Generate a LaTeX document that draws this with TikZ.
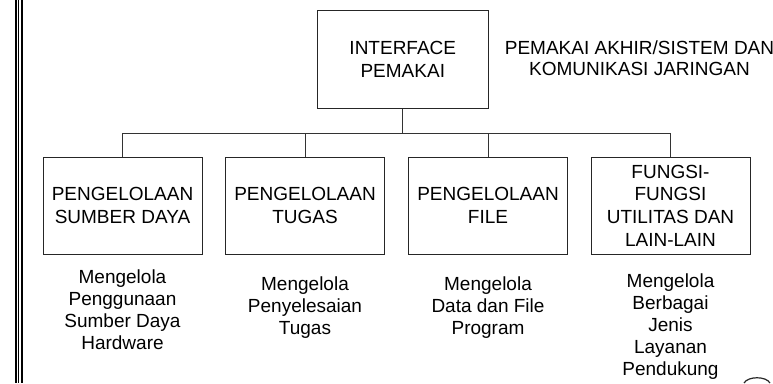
\documentclass[tikz,border=0pt]{standalone}
\usepackage{fontspec}
\setmainfont{Liberation Sans}
\begin{document}
\begin{tikzpicture}[x=1pt,y=-1pt,
  boxc/.style={draw=black!85,line width=1pt,minimum width=159pt,minimum height=97pt,align=center,inner sep=0pt,
     font=\fontsize{19}{22.7}\selectfont},
  desc/.style={anchor=north,align=center,inner sep=0pt,font=\fontsize{19}{22}\selectfont},
  conn/.style={draw=black!80,line width=1pt}]
\useasboundingbox (0,0) rectangle (773,383);
% left border
\fill[black] (15,0) rectangle (17.2,383);
\fill[black] (18.4,0) rectangle (19.4,383);
\fill[black] (20.8,0) rectangle (23.4,383);
% top box
\node[boxc,minimum width=171pt,minimum height=97.6pt] (top) at (402.8,59.5) {INTERFACE\\PEMAKAI};
\node[align=center,inner sep=0pt,font=\fontsize{19}{21}\selectfont] (note) at (639.5,58.5) {PEMAKAI AKHIR/SISTEM DAN\\KOMUNIKASI JARINGAN};
% child boxes
\node[boxc] (b1) at (122.5,205.5) {PENGELOLAAN\\SUMBER DAYA};
\node[boxc] (b2) at (305,205.5) {PENGELOLAAN\\TUGAS};
\node[boxc] (b3) at (488,205.5) {PENGELOLAAN\\FILE};
\node[boxc] (b4) at (670.5,205.5) {FUNGSI-\\FUNGSI\\UTILITAS DAN\\LAIN-LAIN};
% connectors
\coordinate (busY) at (0,133);
\draw[conn] (top.south) -- (top.south |- busY);
\draw[conn] (b1.north) -- (b1.north |- busY) -- (b4.north |- busY) -- (b4.north);
\draw[conn] (b2.north) -- (b2.north |- busY);
\draw[conn] (b3.north) -- (b3.north |- busY);
% descriptions
\node[desc] (d1) at (122.5,270) {Mengelola\\Penggunaan\\Sumber Daya\\Hardware};
\node[desc] (d2) at (305,277) {Mengelola\\Penyelesaian\\Tugas};
\node[desc] (d3) at (488,277) {Mengelola\\Data dan File\\Program};
\node[desc] (d4) at (670.5,274) {Mengelola\\Berbagai\\Jenis\\Layanan\\Pendukung};
% partial circle at bottom right
\draw[line width=1.2pt,black!85] (744,383) .. controls (748,376) and (766,376) .. (770,383);
\end{tikzpicture}
\end{document}
